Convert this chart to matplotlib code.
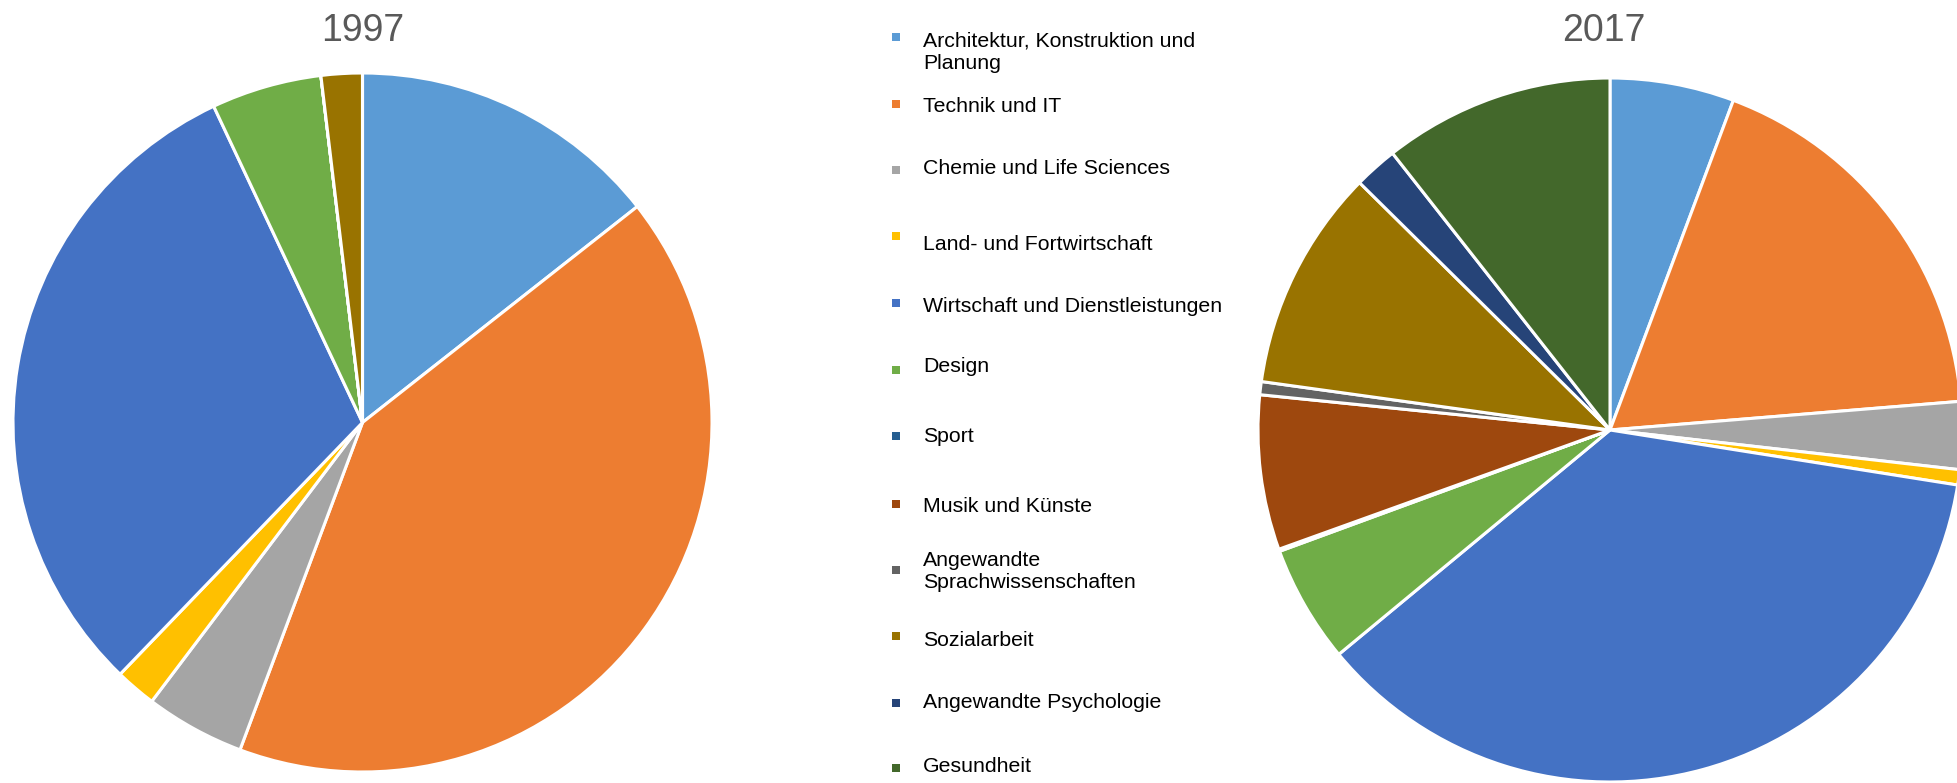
import matplotlib
matplotlib.use("Agg")
import matplotlib.pyplot as plt

plt.rcParams['font.family'] = ['Liberation Sans', 'DejaVu Sans']

# ---- data ----
categories = [
    "Architektur, Konstruktion und\nPlanung",
    "Technik und IT",
    "Chemie und Life Sciences",
    "Land- und Fortwirtschaft",
    "Wirtschaft und Dienstleistungen",
    "Design",
    "Sport",
    "Musik und Künste",
    "Angewandte\nSprachwissenschaften",
    "Sozialarbeit",
    "Angewandte Psychologie",
    "Gesundheit",
]
values_1997 = [14.4, 41.3, 4.6, 1.9, 30.8, 5.1, 0, 0, 0, 1.9, 0, 0]
values_2017 = [5.7, 18.0, 3.1, 0.7, 36.5, 5.4, 0.1, 7.1, 0.6, 10.2, 2.0, 10.6]
titles = ["1997", "2017"]

colors = ["#5B9BD5", "#ED7D31", "#A5A5A5", "#FFC000", "#4472C4", "#70AD47",
          "#255E91", "#9E480E", "#636363", "#997300", "#264478", "#43682B"]

# ---- layout (pixels) ----
W, H = 1957, 783
fig = plt.figure(figsize=(W / 100, H / 100), dpi=100)

pie_boxes = [  # center x, center y (from top), radius
    (362.5, 422.5, 349.5),
    (1610.0, 430.0, 352.0),
]
title_pos = [(363, 31), (1604, 31)]

for (cx, cy, r), vals, title, tp in zip(pie_boxes, [values_1997, values_2017], titles, title_pos):
    ax = fig.add_axes([(cx - r) / W, (H - cy - r) / H, 2 * r / W, 2 * r / H])
    ax.pie(vals, colors=colors, startangle=90, counterclock=False, radius=1,
           wedgeprops=dict(edgecolor="white", linewidth=2.2))
    ax.set_xlim(-1, 1)
    ax.set_ylim(-1, 1)
    ax.set_aspect("equal")
    ax.axis("off")
    fig.text(tp[0] / W, 1 - tp[1] / H, title, ha="center", va="center",
             fontsize=27, color="#595959")

# ---- legend ----
lax = fig.add_axes([0, 0, 1, 1])
lax.set_xlim(0, W)
lax.set_ylim(H, 0)
lax.axis("off")

marker_x = 896
text_x = 923
marker_y = [37, 104, 170, 236, 303, 370, 436, 504, 570, 636, 703, 768]
text_y = [52.5, 106, 168, 245, 306, 366, 436, 506, 571.5, 641, 703, 766]

for cat, col, my, ty in zip(categories, colors, marker_y, text_y):
    lax.scatter([marker_x], [my], marker="s", s=36, color=col, linewidths=0)
    lax.text(text_x, ty, cat, ha="left", va="center", fontsize=15.3,
             color="#000000", linespacing=1.25)

fig.savefig("out.png", dpi=100)
